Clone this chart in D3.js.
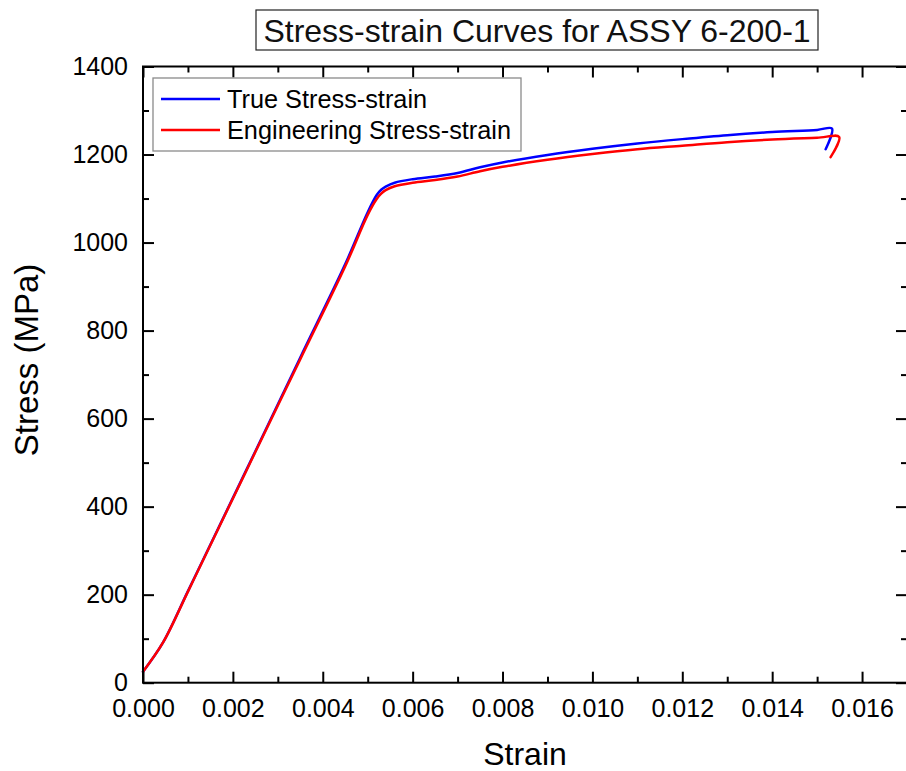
<!DOCTYPE html>
<html>
<head>
<meta charset="utf-8">
<script src="https://cdn.jsdelivr.net/npm/d3@7"></script>
<style>
  html, body { margin: 0; padding: 0; background: #fff; }
  svg { display: block; font-family: "Liberation Sans", Arial, sans-serif; }
</style>
</head>
<body>
<svg id="chart" width="906" height="771"></svg>
<script>
// Engineering stress-strain test record (strain, MPa)
const engStrain = [0, 0.00045, 0.0010, 0.0016, 0.0025, 0.0035, 0.0045, 0.0050, 0.0052, 0.0053, 0.0054, 0.0056, 0.0060, 0.0065, 0.0070, 0.0075, 0.0080, 0.0090, 0.0100, 0.0110, 0.0120, 0.0130, 0.0140, 0.0150, 0.01549, 0.0153];
const engStress = [25, 92, 207, 334, 524, 735, 946, 1063, 1099, 1111, 1119, 1128, 1136, 1142, 1150, 1162, 1172, 1188, 1201, 1212, 1220, 1228, 1234, 1238, 1240, 1194];

// True stress-strain record (strain, MPa)
const trueStrain = [0, 0.00045, 0.0010, 0.0016, 0.0025, 0.0035, 0.0045, 0.0050, 0.0052, 0.0053, 0.0054, 0.0056, 0.0060, 0.0065, 0.0070, 0.0075, 0.0080, 0.0090, 0.0100, 0.0110, 0.0120, 0.0130, 0.0140, 0.0150, 0.01533, 0.01519];
const trueStress = [25, 92, 208, 335, 526, 739, 951, 1069, 1108, 1120, 1127, 1136, 1144, 1150, 1158, 1171, 1182, 1199, 1213, 1225, 1235, 1244, 1251, 1256, 1259, 1212];

// Axis ticks
const xMajor = [0, 0.002, 0.004, 0.006, 0.008, 0.010, 0.012, 0.014, 0.016];
const xMinor = [0.001, 0.003, 0.005, 0.007, 0.009, 0.011, 0.013, 0.015, 0.017];
const yMajor = [0, 200, 400, 600, 800, 1000, 1200, 1400];
const yMinor = [100, 300, 500, 700, 900, 1100, 1300];

const seriesNames = ["True Stress-strain", "Engineering Stress-strain"];
const seriesColors = ["#0000ff", "#ff0000"];
const titleText = "Stress-strain Curves for ASSY 6-200-1";
const xTitle = "Strain";
const yTitle = "Stress (MPa)";

const svg = d3.select("#chart");
const plotL = 143, plotR = 907, plotT = 66.5, plotB = 682.7;

const x = d3.scaleLinear().domain([0, 0.017]).range([plotL, plotR]);
const y = d3.scaleLinear().domain([0, 1400]).range([plotB, plotT]);

// Title box
const tg = svg.append("g");
tg.append("rect").attr("x", 256).attr("y", 10).attr("width", 562).attr("height", 40)
  .attr("fill", "#fff").attr("stroke", "#222").attr("stroke-width", 1.2);
tg.append("text").attr("x", 537).attr("y", 42).attr("text-anchor", "middle")
  .attr("font-size", 32).attr("fill", "#111").text(titleText);

// Curves
const toPoints = (xsArr, ysArr) => xsArr.map((v, i) => [v, ysArr[i]]);
const line = d3.line().curve(d3.curveCatmullRom.alpha(0.5)).x(d => x(d[0])).y(d => y(d[1]));
const series = [toPoints(trueStrain, trueStress), toPoints(engStrain, engStress)];
series.forEach((pts, i) => {
  svg.append("path").datum(pts).attr("d", line)
    .attr("fill", "none").attr("stroke", seriesColors[i])
    .attr("stroke-width", 2.5).attr("stroke-linejoin", "round").attr("stroke-linecap", "round");
});

// Axes, ticks pointing inward on all four sides
function styleAxis(g) {
  g.selectAll(".domain").remove();
  g.selectAll(".tick line").attr("stroke", "#000").attr("stroke-width", 2);
  g.selectAll(".tick text").attr("fill", "#000").attr("font-size", 25)
    .attr("font-family", "'Liberation Sans', Arial, sans-serif");
}
const fmtX = d3.format(".3f");

svg.append("g").attr("transform", `translate(0,${plotB})`)
  .call(d3.axisBottom(x).tickValues(xMajor).tickFormat(fmtX).tickSizeInner(-11).tickSizeOuter(0).tickPadding(16.5))
  .call(styleAxis);
svg.append("g").attr("transform", `translate(0,${plotB})`)
  .call(d3.axisBottom(x).tickValues(xMinor).tickFormat("").tickSizeInner(-6).tickSizeOuter(0))
  .call(styleAxis);
svg.append("g").attr("transform", `translate(0,${plotT})`)
  .call(d3.axisTop(x).tickValues(xMajor).tickFormat("").tickSizeInner(-11).tickSizeOuter(0))
  .call(styleAxis);
svg.append("g").attr("transform", `translate(0,${plotT})`)
  .call(d3.axisTop(x).tickValues(xMinor).tickFormat("").tickSizeInner(-6).tickSizeOuter(0))
  .call(styleAxis);

svg.append("g").attr("transform", `translate(${plotL},0)`)
  .call(d3.axisLeft(y).tickValues(yMajor).tickFormat(d3.format("d")).tickSizeInner(-11).tickSizeOuter(0).tickPadding(15))
  .call(styleAxis);
svg.append("g").attr("transform", `translate(${plotL},0)`)
  .call(d3.axisLeft(y).tickValues(yMinor).tickFormat("").tickSizeInner(-6).tickSizeOuter(0))
  .call(styleAxis);
svg.append("g").attr("transform", `translate(${plotR},0)`)
  .call(d3.axisRight(y).tickValues(yMajor).tickFormat("").tickSizeInner(-11).tickSizeOuter(0))
  .call(styleAxis);
svg.append("g").attr("transform", `translate(${plotR},0)`)
  .call(d3.axisRight(y).tickValues(yMinor).tickFormat("").tickSizeInner(-6).tickSizeOuter(0))
  .call(styleAxis);

// Frame
svg.append("rect").attr("x", plotL).attr("y", plotT)
  .attr("width", plotR - plotL).attr("height", plotB - plotT)
  .attr("fill", "none").attr("stroke", "#000").attr("stroke-width", 2);

// Axis titles
svg.append("text").attr("x", (plotL + plotR) / 2).attr("y", 765).attr("text-anchor", "middle")
  .attr("font-size", 32).attr("fill", "#000").text(xTitle);
svg.append("text").attr("transform", `translate(38,360) rotate(-90)`).attr("text-anchor", "middle")
  .attr("font-size", 33).attr("fill", "#000").text(yTitle);

// Legend
const lg = svg.append("g");
lg.append("rect").attr("x", 153).attr("y", 78).attr("width", 368).attr("height", 73)
  .attr("fill", "#fff").attr("stroke", "#8a8a8a").attr("stroke-width", 1.3);
seriesNames.forEach((name, i) => {
  const yy = 99 + i * 31;
  lg.append("line").attr("x1", 161).attr("x2", 220).attr("y1", yy).attr("y2", yy)
    .attr("stroke", seriesColors[i]).attr("stroke-width", 2.5);
  lg.append("text").attr("x", 227).attr("y", yy).attr("dy", "0.36em")
    .attr("font-size", 25.3).attr("fill", "#000").text(name);
});
</script>
</body>
</html>
